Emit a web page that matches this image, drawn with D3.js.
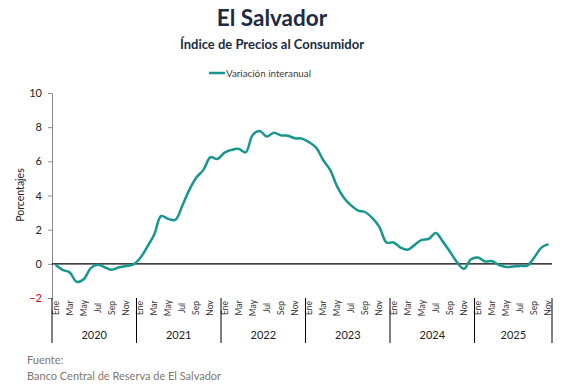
<!DOCTYPE html>
<html>
<head>
<meta charset="utf-8">
<script src="https://cdn.jsdelivr.net/npm/d3@7"></script>
<style>
  body { margin: 0; background: #fff; }
  text { font-family: "Lato", "Open Sans", sans-serif; }
</style>
</head>
<body>
<div id="chart"></div>
<script>
// datos
var meses = ["Ene","Feb","Mar","Abr","May","Jun","Jul","Ago","Sep","Oct","Nov","Dic"];
var anios = [2020, 2021, 2022, 2023, 2024, 2025];
var yTicks = [-2, 0, 2, 4, 6, 8, 10];
var variacion = [
  // 2020
  -0.05, -0.35, -0.5, -1.05, -0.9, -0.25, -0.05, -0.2, -0.35, -0.2, -0.13, -0.05,
  // 2021
  0.33, 0.98, 1.7, 2.8, 2.63, 2.57, 3.4, 4.33, 5.05, 5.5, 6.24, 6.14,
  // 2022
  6.51, 6.67, 6.73, 6.53, 7.54, 7.78, 7.45, 7.68, 7.52, 7.5, 7.35, 7.33,
  // 2023
  7.12, 6.8, 6.08, 5.5, 4.52, 3.84, 3.41, 3.12, 3.02, 2.67, 2.15, 1.25,
  // 2024
  1.25, 0.95, 0.82, 1.11, 1.4, 1.46, 1.81, 1.3, 0.72, 0.1, -0.29, 0.27,
  // 2025
  0.37, 0.14, 0.16, -0.08, -0.18, -0.15, -0.12, -0.1, 0.39, 0.95, 1.15
];

var width = 587, height = 392;
var svg = d3.select("#chart").append("svg")
    .attr("width", width)
    .attr("height", height);

// categorias mes-año
var cats = variacion.map((v, i) => ({
  key: i,
  mes: meses[i % 12],
  anio: anios[Math.floor(i / 12)],
  value: v
}));

var x = d3.scaleBand()
    .domain(cats.map(d => d.key))
    .range([52, 552])
    .padding(0);

var y = d3.scaleLinear()
    .domain([-2, 10])
    .range([298, 93]);

// titulos
svg.append("text")
    .attr("x", 272).attr("y", 26)
    .attr("text-anchor", "middle")
    .attr("font-size", 22.5).attr("font-weight", "bold")
    .attr("fill", "#1c2a44")
    .text("El Salvador");

svg.append("text")
    .attr("x", 272).attr("y", 49)
    .attr("text-anchor", "middle")
    .attr("font-size", 13).attr("font-weight", "bold")
    .attr("fill", "#1c2a44")
    .text("Índice de Precios al Consumidor");

// leyenda
svg.append("line")
    .attr("x1", 209).attr("x2", 225)
    .attr("y1", 73).attr("y2", 73)
    .attr("stroke", "#16978f").attr("stroke-width", 2.5);
svg.append("text")
    .attr("x", 226).attr("y", 77)
    .attr("font-size", 9.8).attr("fill", "#404040")
    .text("Variación interanual");

// eje y
var yAxis = svg.append("g")
    .attr("transform", "translate(52,0)")
    .call(d3.axisLeft(y).tickValues(yTicks).tickSize(4).tickPadding(6));
yAxis.select(".domain").attr("stroke", "#8c8c8c");
yAxis.selectAll(".tick line").attr("stroke", "#8c8c8c");
yAxis.selectAll(".tick text")
    .attr("font-size", 11)
    .attr("font-family", "Lato, sans-serif")
    .attr("fill", d => d < 0 ? "#e00000" : "#222");

svg.append("text")
    .attr("transform", "translate(24,195) rotate(-90)")
    .attr("text-anchor", "middle")
    .attr("font-size", 10.5).attr("fill", "#222")
    .text("Porcentajes");

// linea cero
svg.append("line")
    .attr("x1", x.range()[0]).attr("x2", x.range()[1])
    .attr("y1", y(0)).attr("y2", y(0))
    .attr("stroke", "#000").attr("stroke-width", 1.3);

// serie
var line = d3.line()
    .x(d => x(d.key) + x.bandwidth() / 2)
    .y(d => y(d.value))
    .curve(d3.curveCatmullRom.alpha(0.5));

svg.append("path")
    .datum(cats)
    .attr("fill", "none")
    .attr("stroke", "#16978f")
    .attr("stroke-width", 2.5)
    .attr("d", line);

// etiquetas de meses (cada dos)
svg.append("g")
    .selectAll("text")
    .data(cats.filter((d, i) => i % 2 === 0))
    .join("text")
    .attr("transform", d => "translate(" + (x(d.key) + x.bandwidth() / 2 + 3) + ",308) rotate(-90)")
    .attr("text-anchor", "middle")
    .attr("font-size", 8.5).attr("fill", "#333")
    .text(d => d.mes);

// separadores de años
var bordes = anios.map((a, i) => x(i * 12)).concat([x.range()[1]]);
svg.append("g")
    .selectAll("line")
    .data(bordes)
    .join("line")
    .attr("x1", d => d).attr("x2", d => d)
    .attr("y1", 298).attr("y2", 343)
    .attr("stroke", "#000").attr("stroke-width", 1);

svg.append("g")
    .selectAll("text")
    .data(anios)
    .join("text")
    .attr("x", (d, i) => (bordes[i] + bordes[i + 1]) / 2)
    .attr("y", 339)
    .attr("text-anchor", "middle")
    .attr("font-size", 11).attr("fill", "#222")
    .text(d => d);

// fuente
svg.append("text")
    .attr("x", 27).attr("y", 364)
    .attr("font-size", 11).attr("fill", "#7f786e")
    .text("Fuente:");
svg.append("text")
    .attr("x", 27).attr("y", 380)
    .attr("font-size", 11).attr("fill", "#7f786e")
    .text("Banco Central de Reserva de El Salvador");
</script>
</body>
</html>
